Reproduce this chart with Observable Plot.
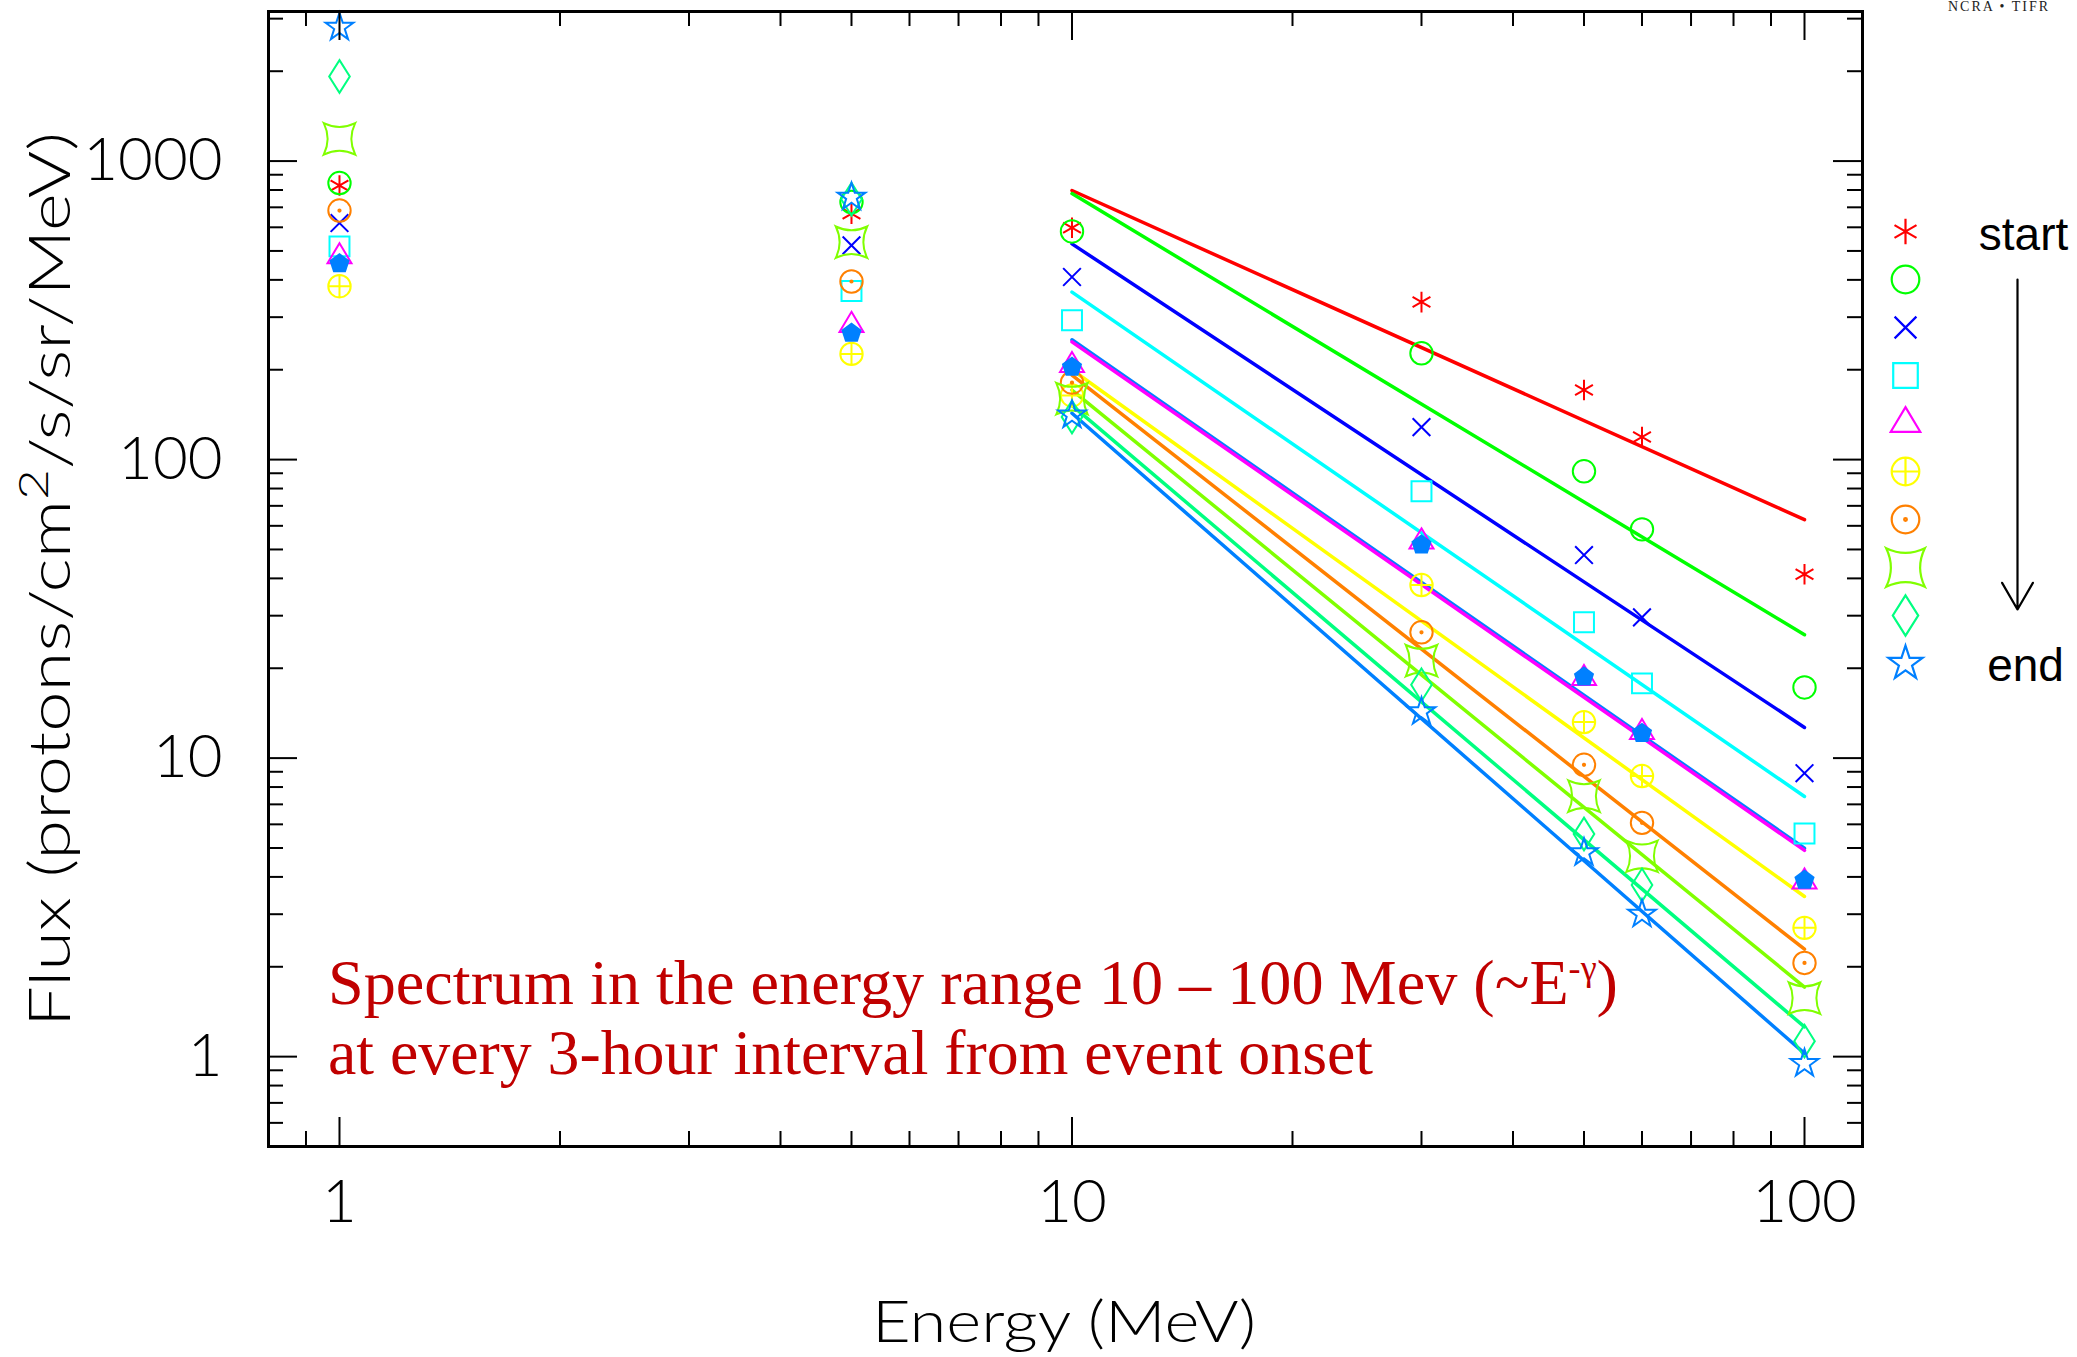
<!DOCTYPE html>
<html>
<head>
<meta charset="utf-8">
<script src="https://cdn.jsdelivr.net/npm/d3@7"></script>
<script src="https://cdn.jsdelivr.net/npm/@observablehq/plot@0.6"></script>
<style>
  html, body { margin: 0; padding: 0; background: #fff; overflow: hidden; }
  #wrap { position: relative; width: 2077px; height: 1357px; overflow: hidden; }
  #wrap svg { position: absolute; top: 0; }
  #ncra { position: absolute; left: 1948px; top: 0px; font: 14px/14px "Liberation Serif", "Times New Roman", serif; letter-spacing: 2px; white-space: nowrap; color: #222; }
</style>
</head>
<body>
<div id="wrap"><div id="ncra">NCRA • TIFR</div></div>
<script>
// ---------------- data ----------------
const energies = [1, 5, 10, 30, 50, 60, 100];           // MeV
const intervals = ["T1", "T2", "T3", "T4", "T5", "T6", "T7", "T8", "T9", "T10"]; // start -> end
const colors = ["#ff0000", "#00ff00", "#0000ff", "#00ffff", "#ff00ff", "#ffff00", "#ff8000", "#80ff00", "#00ff80", "#0080ff"];

// flux at each energy, per 3-hour interval
const fluxT1  = [828, 666, 598, 337, 171, 119, 41.3];
const fluxT2  = [844, 729, 581, 227, 91.4, 58.4, 17.25];
const fluxT3  = [620, 522, 409, 128.5, 47.9, 29.6, 8.9];
const fluxT4  = [518, 367, 293, 78.3, 28.5, 17.8, 5.59];
const fluxT5  = [479, 282, 207, 53.1, 18.5, 12.2, 3.85];
const fluxT6  = [381, 226, 164, 38.0, 13.2, 8.71, 2.70];
const fluxT7  = [683, 395, 181, 26.4, 9.5, 6.07, 2.06];
const fluxT8  = [1187, 535, 160, 21.2, 7.46, 4.69, 1.57];
const fluxT9  = [1920, 745, 139, 17.6, 5.57, 3.76, 1.127];
const fluxT10 = [2806, 757, 141, 14.3, 4.82, 3.0, 0.948];
const fluxExtra = [453, 265, 204, 51.8, 18.7, 12.1, 3.90];   // filled pentagon series
const extraColor = "#0080ff";

// power-law fits (~E^-gamma), value at 10 MeV and at 100 MeV
const fitEnergies = [10, 100];
const fitAt10  = [797, 778, 528, 364, 248, 200, 192, 171, 152, 143];
const fitAt100 = [62.9, 25.9, 12.67, 7.44, 4.91, 3.44, 2.29, 1.71, 1.258, 1.025];
const fitExtra = [252, 4.99];

// ticks
const xMajor = [1, 10, 100];
const xMinor = [0.9, 2, 3, 4, 5, 6, 7, 8, 9, 20, 30, 40, 50, 60, 70, 80, 90];
const yMajor = [1, 10, 100, 1000];
const yMinor = [0.6, 0.7, 0.8, 0.9, 2, 3, 4, 5, 6, 7, 8, 9, 20, 30, 40, 50, 60, 70, 80, 90, 200, 300, 400, 500, 600, 700, 800, 900, 2000, 3000];

const allFlux = [fluxT1, fluxT2, fluxT3, fluxT4, fluxT5, fluxT6, fluxT7, fluxT8, fluxT9, fluxT10];

// ---------------- symbols ----------------
function sym(fn) { return { draw(c, size) { fn(c, Math.sqrt(size / Math.PI)); } }; }
const S3 = Math.sqrt(3);
const symAsterisk = sym((c, R) => { const a = 0.92 * R, t = a / 2, u = t * S3;
  c.moveTo(0, -a); c.lineTo(0, a); c.moveTo(-u, -t); c.lineTo(u, t); c.moveTo(-u, t); c.lineTo(u, -t); });
const symCircle = sym((c, R) => { c.moveTo(R, 0); c.arc(0, 0, R, 0, 2 * Math.PI); });
const symTimes = sym((c, R) => { const h = 0.79 * R;
  c.moveTo(-h, -h); c.lineTo(h, h); c.moveTo(-h, h); c.lineTo(h, -h); });
const symSquare = sym((c, R) => { const s = 0.89 * R; c.rect(-s, -s, 2 * s, 2 * s); });
const symTriangle = sym((c, R) => { c.moveTo(0, -1.19 * R); c.lineTo(1.07 * R, 0.6 * R); c.lineTo(-1.07 * R, 0.6 * R); c.closePath(); });
const symCirclePlus = sym((c, R) => { c.moveTo(R, 0); c.arc(0, 0, R, 0, 2 * Math.PI);
  c.moveTo(-R, 0); c.lineTo(R, 0); c.moveTo(0, -R); c.lineTo(0, R); });
const symCircleDot = sym((c, R) => { c.moveTo(R, 0); c.arc(0, 0, R, 0, 2 * Math.PI);
  const d = 0.1 * R; c.moveTo(d, 0); c.arc(0, 0, d, 0, 2 * Math.PI); });
const symConcave = sym((c, R) => { const a = 1.4 * R, k = 0.72 * R;
  c.moveTo(-a, -a); c.quadraticCurveTo(0, -k, a, -a); c.quadraticCurveTo(k, 0, a, a);
  c.quadraticCurveTo(0, k, -a, a); c.quadraticCurveTo(-k, 0, -a, -a); c.closePath(); });
const symDiamond = sym((c, R) => { c.moveTo(0, -1.46 * R); c.lineTo(0.92 * R, 0); c.lineTo(0, 1.46 * R); c.lineTo(-0.92 * R, 0); c.closePath(); });
const symStar = sym((c, R) => { const ro = 1.3 * R, ri = 0.5 * R;
  for (let i = 0; i < 10; i++) { const r = i % 2 ? ri : ro, a = -Math.PI / 2 + i * Math.PI / 5;
    const x = r * Math.cos(a), y = r * Math.sin(a); i ? c.lineTo(x, y) : c.moveTo(x, y); } c.closePath(); });
const symPentagon = sym((c, R) => { const r = 0.95 * R;
  for (let i = 0; i < 5; i++) { const a = -Math.PI / 2 + i * 2 * Math.PI / 5;
    const x = r * Math.cos(a), y = r * Math.sin(a); i ? c.lineTo(x, y) : c.moveTo(x, y); } c.closePath(); });
const symbols = [symAsterisk, symCircle, symTimes, symSquare, symTriangle, symCirclePlus, symCircleDot, symConcave, symDiamond, symStar];

// ---------------- tables ----------------
const points = allFlux.map((f, i) => energies.map((E, j) => ({ series: intervals[i], E, flux: f[j] })));
const extraPoints = energies.map((E, j) => ({ series: "extra", E, flux: fluxExtra[j] }));
const fits = intervals.map((s, i) => fitEnergies.map((E, j) => ({ series: s, E, flux: j ? fitAt100[i] : fitAt10[i] })));
const extraFit = fitEnergies.map((E, j) => ({ E, flux: fitExtra[j] }));

const W = 2077, H = 1357, mL = 268, mR = 215, mT = 11, mB = 211;
const innerW = W - mL - mR, innerH = H - mT - mB;
const FONT = "Lato, 'Noto Sans', sans-serif";

const chart = Plot.plot({
  width: W, height: H,
  marginLeft: mL, marginRight: mR, marginTop: mT, marginBottom: mB,
  style: { fontFamily: FONT, background: "transparent", overflow: "visible" },
  x: { type: "log", domain: [0.8, 120] },
  y: { type: "log", domain: [0.5, 3170] },
  marks: [
    // fit lines
    Plot.line(extraFit, { x: "E", y: "flux", stroke: extraColor, strokeWidth: 3.5 }),
    ...fits.map((d, i) => Plot.line(d, { x: "E", y: "flux", stroke: colors[i], strokeWidth: 3.5 })),
    // data points
    ...points.map((d, i) => Plot.dot(d, { x: "E", y: "flux", symbol: symbols[i], r: 11.2, stroke: colors[i], strokeWidth: 2, fill: "none" })),
    Plot.dot(extraPoints, { x: "E", y: "flux", symbol: symPentagon, r: 11.2, fill: extraColor, stroke: "none" }),
    // inward ticks on all four sides
    Plot.ruleX(xMajor, { x: d => d, insetTop: innerH - 29, strokeWidth: 2 }),
    Plot.ruleX(xMinor, { x: d => d, insetTop: innerH - 15, strokeWidth: 2 }),
    Plot.ruleX(xMajor, { x: d => d, insetBottom: innerH - 29, strokeWidth: 2 }),
    Plot.ruleX(xMinor, { x: d => d, insetBottom: innerH - 15, strokeWidth: 2 }),
    Plot.ruleY(yMajor, { y: d => d, insetRight: innerW - 29, strokeWidth: 2 }),
    Plot.ruleY(yMinor, { y: d => d, insetRight: innerW - 15, strokeWidth: 2 }),
    Plot.ruleY(yMajor, { y: d => d, insetLeft: innerW - 29, strokeWidth: 2 }),
    Plot.ruleY(yMinor, { y: d => d, insetLeft: innerW - 15, strokeWidth: 2 }),
    Plot.frame({ stroke: "#000", strokeWidth: 3 }),
    // tick labels
    Plot.axisX({ ticks: xMajor, tickSize: 0, tickPadding: 33, tickFormat: d => String(d), fontSize: 60, fontWeight: 300, label: null }),
    Plot.axisY({ ticks: yMajor, tickSize: 0, tickPadding: 46, tickFormat: d => String(d), fontSize: 60, fontWeight: 300, label: null })
  ]
});
chart.style.left = "0px";
document.getElementById("wrap").appendChild(chart);

// axis titles and annotation
const svg = d3.select(chart);
svg.append("text")
  .attr("x", 1064).attr("y", 1342).attr("text-anchor", "middle")
  .attr("font-family", FONT).attr("font-weight", 300).attr("font-size", 57)
  .attr("textLength", 384).attr("lengthAdjust", "spacingAndGlyphs")
  .text("Energy (MeV)");
const yl = svg.append("text")
  .attr("transform", "translate(70,579.5) rotate(-90)").attr("text-anchor", "middle")
  .attr("font-family", FONT).attr("font-weight", 300).attr("font-size", 57)
  .attr("textLength", 895).attr("lengthAdjust", "spacingAndGlyphs");
yl.append("tspan").text("Flux (protons/cm");
yl.append("tspan").attr("dy", -22).attr("font-size", 42).text("2");
yl.append("tspan").attr("dy", 22).text("/s/sr/MeV)");

const ann = svg.append("g").attr("fill", "#c00000").attr("text-anchor", "start")
  .attr("font-family", "'Liberation Serif', 'Times New Roman', serif").attr("font-size", 64);
const a1 = ann.append("text").attr("x", 328).attr("y", 1004).attr("text-anchor", "start")
  .attr("textLength", 1290).attr("lengthAdjust", "spacingAndGlyphs");
a1.append("tspan").text("Spectrum in the energy range 10 – 100 Mev (~E");
a1.append("tspan").attr("dy", -24).attr("font-size", 36).text("-γ");
a1.append("tspan").attr("dy", 24).text(")");
ann.append("text").attr("x", 328).attr("y", 1074).attr("text-anchor", "start")
  .attr("textLength", 1045).attr("lengthAdjust", "spacingAndGlyphs")
  .text("at every 3-hour interval from event onset");

// ---------------- legend ----------------
const legend = Plot.plot({
  width: 197, height: 720,
  marginLeft: 25, marginRight: 60, marginTop: 229, marginBottom: 56,
  style: { fontFamily: "'Liberation Sans', Arial, sans-serif", background: "transparent", overflow: "visible" },
  x: { type: "point", domain: ["sym", "txt"], axis: null, padding: 0 },
  y: { type: "point", domain: intervals, axis: null, padding: 0 },
  marks: [
    ...intervals.map((s, i) => Plot.dot([s], { x: () => "sym", y: d => d, symbol: symbols[i], r: 13.8, stroke: colors[i], strokeWidth: 2.2, fill: "none" })),
    Plot.arrow([0], { x1: () => "txt", x2: () => "txt", y1: () => intervals[1], y2: () => intervals[8], insetEnd: 6, headLength: 21, headAngle: 60, stroke: "#000", strokeWidth: 2.2 }),
    Plot.text(["start"], { x: () => "txt", y: () => intervals[0], text: d => d, dx: 6, dy: 4, fontSize: 46, fill: "#000" }),
    Plot.text(["end"], { x: () => "txt", y: () => intervals[9], text: d => d, dx: 8, dy: 3, fontSize: 46, fill: "#000" })
  ]
});
legend.style.left = "1880px";
document.getElementById("wrap").appendChild(legend);
</script>
</body>
</html>
